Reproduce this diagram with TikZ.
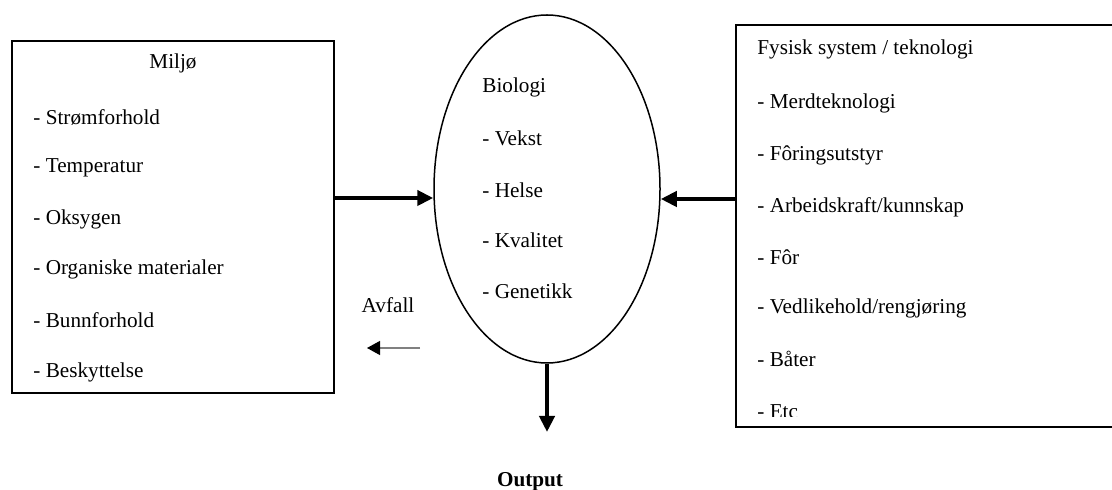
\documentclass[tikz,border=0pt]{standalone}
\usepackage{fontspec}
\setmainfont{Liberation Serif}
\usetikzlibrary{shapes.geometric,arrows.meta}

\tikzset{
	item/.style={anchor=west,inner sep=0pt},
	frame/.style={draw,line width=1pt,inner sep=0pt},
	bigarrow/.style={line width=2pt,-{Triangle[length=8pt,width=7.5pt]}},
	thinarrow/.style={draw=gray,line width=0.6pt,-{Triangle[length=6.5pt,width=7pt,color=black]}}
}

\begin{document}
\begin{tikzpicture}[x=0.5pt,y=-0.5pt,font=\fontsize{10.6}{12}\selectfont]
			\useasboundingbox (0,0) rectangle (1112,490);
			\node[frame,minimum width=161pt,minimum height=176pt] (miljo) at (173,217) {};
			\node[frame,minimum width=192pt,minimum height=201pt] (fysisk) at (928,226) {};
			\node[draw,ellipse,line width=0.75pt,inner sep=0pt,minimum width=113pt,minimum height=174pt] (bio) at (547,189) {};

			\node (miljotitle) at (173,63) {Miljø};
			\node[item] (m1) at (33,117) {- Strømforhold};
			\node[item] (m2) at (33,168) {- Temperatur};
			\node[item] (m3) at (33,219) {- Oksygen};
			\node[item] (m4) at (33,269) {- Organiske materialer};
			\node[item] (m5) at (33,320) {- Bunnforhold};
			\node[item] (m6) at (33,372) {- Beskyttelse};

			\node[item] (biotitle) at (482,87) {Biologi};
			\node[item] (b1) at (482,138) {- Vekst};
			\node[item] (b2) at (482,190) {- Helse};
			\node[item] (b3) at (482,240) {- Kvalitet};
			\node[item] (b4) at (482,291) {- Genetikk};

			\node[item] (fystitle) at (757,49) {Fysisk system / teknologi};
			\node[item] (f1) at (757,103) {- Merdteknologi};
			\node[item] (f2) at (757,155) {- Fôringsutstyr};
			\node[item] (f3) at (757,207) {- Arbeidskraft/kunnskap};
			\node[item] (f4) at (757,257) {- Fôr};
			\node[item] (f5) at (757,308) {- Vedlikehold/rengjøring};
			\node[item] (f6) at (757,359) {- Båter};
			\begin{scope}
				\clip (736,25) rectangle (1112,417);
				\node[item] (f7) at (757,412) {- Etc};
			\end{scope}

			\node (avfall) at (388,305) {Avfall};
			\node[font=\fontsize{10.6}{12}\selectfont\bfseries] (output) at (530,482) {Output};

			\coordinate (inl) at (0,198);
			\coordinate (inr) at (0,199);
			\coordinate (avfallstart) at (420,348);
			\coordinate (avfallend) at (367,348);
			\coordinate (outend) at (547,432);

			\draw[bigarrow] (miljo.east |- inl) -- (bio.west |- inl);
			\draw[bigarrow] (fysisk.west |- inr) -- (bio.east |- inr);
			\draw[bigarrow] (bio.south) -- (outend);
			\draw[thinarrow] (avfallstart) -- (avfallend);
			\end{tikzpicture}
\end{document}
